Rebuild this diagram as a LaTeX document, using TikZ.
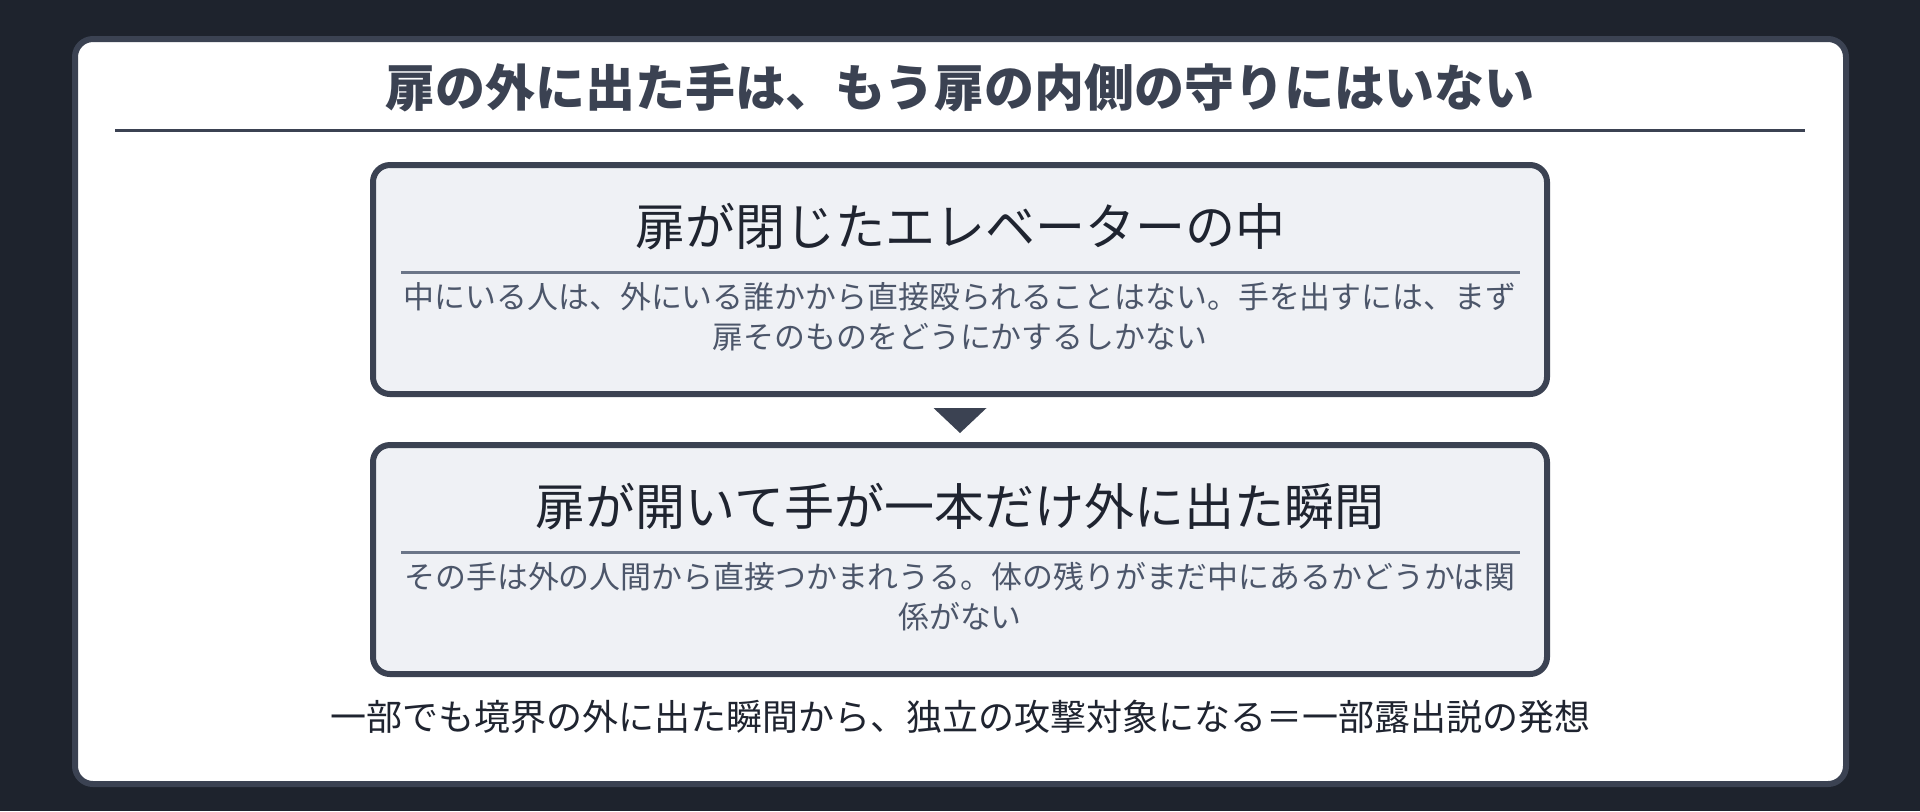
\documentclass[tikz,border=0pt]{standalone}
\usepackage{fontspec}
\setmainfont{Noto Sans CJK JP}
\usetikzlibrary{positioning,calc}

\definecolor{night}{HTML}{1E232D}
\definecolor{frame}{HTML}{3B4252}
\definecolor{ink}{HTML}{1F2430}
\definecolor{stone}{HTML}{4C566A}
\definecolor{rulegray}{HTML}{6B7588}
\definecolor{paper}{HTML}{EFF1F5}

\tikzset{
    stage/.style={draw=frame, fill=paper, line width=3pt, rounded corners=8.5pt,
        minimum width=587pt, minimum height=114.5pt, inner sep=0pt},
    head/.style={anchor=base, text=ink, inner sep=0pt, font=\fontsize{25pt}{30pt}\selectfont},
    note/.style={anchor=base, text=stone, inner sep=0pt, font=\fontsize{15.45pt}{20pt}\selectfont},
}

\begin{document}
\begin{tikzpicture}[x=0.5pt,y=-0.5pt]
            \fill[night] (0,0) rectangle (1920,811);
            \useasboundingbox (0,0) rectangle (1920,811);
            \draw[frame, fill=white, line width=3pt, rounded corners=9pt] (75,39) rectangle (1846,784);

            \node[anchor=base, text=frame, inner sep=0pt, font=\fontsize{25pt}{30pt}\selectfont\bfseries]
                (title) at (960,106.5) {扉の外に出た手は、もう扉の内側の守りにはいない};
            \draw[frame, line width=1.5pt] (115,130.5) -- (1805,130.5);

            \node[stage] (closed) at (960,279.5) {};
            \node[stage] (open) at (960,559.5) {};

            \foreach \st/\hd/\la/\lb in {
                closed/扉が閉じたエレベーターの中/中にいる人は、外にいる誰かから直接殴られることはない。手を出すには、まず/扉そのものをどうにかするしかない,
                open/扉が開いて手が一本だけ外に出た瞬間/その手は外の人間から直接つかまれうる。体の残りがまだ中にあるかどうかは関/係がない}
            {
                \node[head] (\st-head) at ($(\st.north)+(0,83.5)$) {\hd};
                \draw[rulegray, line width=1.5pt] ($(\st.north west)+(31,110.5)$) -- ($(\st.north east)+(-30,110.5)$);
                \node[note] (\st-a) at ($(\st.north)+(0,146)$) {\la};
                \node[note] (\st-b) at ($(\st.north)+(0,186)$) {\lb};
            }

            \fill[frame] ($(closed.south)+(-26.5,11)$) -- ($(closed.south)+(26.5,11)$) -- ($(open.north)+(0,-9)$) -- cycle;

            \node[anchor=base, text=ink, inner sep=0pt, font=\fontsize{18pt}{22pt}\selectfont]
                (moral) at (960,730.5) {一部でも境界の外に出た瞬間から、独立の攻撃対象になる＝一部露出説の発想};
        \end{tikzpicture}
\end{document}
